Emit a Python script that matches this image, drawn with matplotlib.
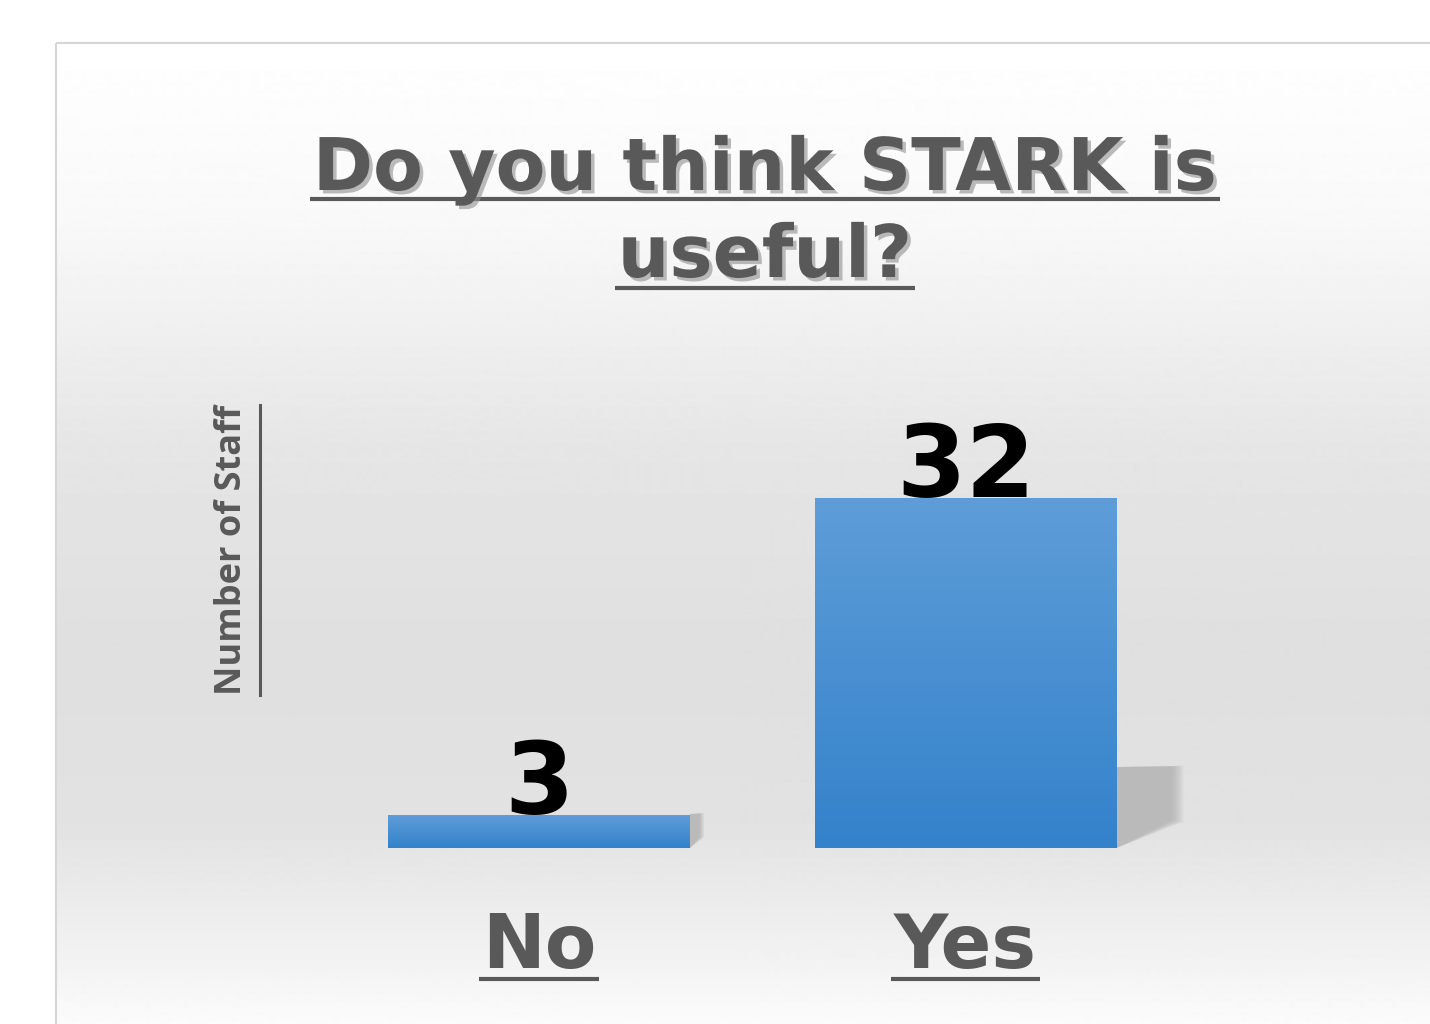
import numpy as np
import matplotlib
matplotlib.use("Agg")
import matplotlib.pyplot as plt
from matplotlib import patheffects as pe
from matplotlib.colors import LinearSegmentedColormap
from matplotlib.patches import Polygon, Rectangle
from matplotlib.lines import Line2D

# data
categories = ['No', 'Yes']
counts = [3, 32]
title_lines = ['Do you think STARK is', 'useful?']
y_label = 'Number of Staff'

W, H = 1430, 1024
fig = plt.figure(figsize=(W / 100, H / 100), dpi=100)

# background: white page with a grey gradient panel
bg = fig.add_axes([0, 0, 1, 1])
bg.set_xlim(0, W)
bg.set_ylim(H, 0)
bg.axis('off')
stops = [42, 220, 450, 650, 820, 960, 1024]
levels = [1.0, 0.975, 0.90, 0.875, 0.885, 0.95, 0.985]
ys = np.arange(42, H + 1)
grad = np.interp(ys, stops, levels)[:, None]
bg.imshow(grad, cmap='gray', vmin=0, vmax=1, extent=[55, W, H, 42], aspect='auto')
bg.add_patch(Rectangle((55.5, 42.5), W, H, fill=False, edgecolor='#d6d6d6', lw=1.5))
bg.set_xlim(0, W)
bg.set_ylim(H, 0)

# main axes, bars sit on pixel row 848
ax = fig.add_axes([300 / W, (H - 848) / H, 900 / W, 448 / H])
ax.axis('off')
x = np.arange(len(categories))
bar_w = 0.708
bars = ax.bar(x, counts, width=bar_w, color='#4a8fd4', zorder=3)

blue = LinearSegmentedColormap.from_list('bar', ['#3482cb', '#5e9dd8'])
for b in bars:
    x0, w, h = b.get_x(), b.get_width(), b.get_height()
    # soft shadow to the right of each bar
    top = min(h, 7.3)
    depth = 0.13 * (top / 7.3) ** 2
    n = 10
    for k in range(n):
        s = (n - 1 - k) * 0.003 * top / 7.3
        shadow = Polygon([(x0 + w, 0), (x0 + w, top + 0.1),
                          (x0 + w + depth + s, top + 0.15 + s * 3),
                          (x0 + w + depth + s, top * 0.35 - s * 6)],
                         closed=True, facecolor='#a6a6a6', edgecolor='none',
                         alpha=0.09, zorder=2)
        ax.add_patch(shadow)
    g = np.linspace(0, 1, 200)[:, None]
    ax.imshow(g, cmap=blue, extent=[x0, x0 + w, 0, h], origin='lower',
              aspect='auto', zorder=3.5)
    ax.text(x0 + w / 2, h + 0.15, str(int(h)), ha='center', va='baseline',
            fontsize=72, fontweight='bold', family='DejaVu Sans', color='black', zorder=5)

ax.set_xlim(-0.5604, 1.5498)
ax.set_ylim(0, 41)

grey = '#595959'
labels = []
for xi, c in zip(x, categories):
    t = ax.text(xi, -11.0, c, ha='center', va='baseline', fontsize=54,
                fontweight='bold', family='DejaVu Sans', color=grey, clip_on=False)
    labels.append(t)

shadow_fx = [pe.withSimplePatchShadow(offset=(2.5, -2.5), shadow_rgbFace='#8f8f8f', alpha=0.6)]
title_font = dict(fontweight='bold', family='DejaVu Sans', color=grey)
t1 = fig.text(765 / W, 1 - 190 / H, title_lines[0], ha='center', va='baseline',
              fontsize=46, path_effects=shadow_fx, **title_font)
t2 = fig.text(765 / W, 1 - 277 / H, title_lines[1], ha='center', va='baseline',
              fontsize=46, path_effects=shadow_fx, **title_font)

yl = fig.text(232 / W, 1 - 550 / H, y_label, rotation=90, ha='center', va='center',
              fontsize=26, fontweight='bold', family='Open Sans', color=grey)

fig.canvas.draw()
r = fig.canvas.get_renderer()
# scale title so the first line spans the same width as in the source
scale = 904 / t1.get_window_extent(r).width
t1.set_fontsize(46 * scale)
t2.set_fontsize(46 * scale)
fig.canvas.draw()


def underline(t, ypix, lw, fx=None):
    bb = t.get_window_extent(r)
    ln = Line2D([(bb.x0 - 3) / W, (bb.x1 + 3) / W], [1 - ypix / H, 1 - ypix / H],
                transform=fig.transFigure, color=grey, lw=lw, solid_capstyle='butt')
    if fx:
        ln.set_path_effects(fx)
    fig.add_artist(ln)


underline(t1, 198.5, 3.0, shadow_fx)
underline(t2, 288, 3.0, shadow_fx)
for t in labels:
    underline(t, 978.5, 3.0)

bb = yl.get_window_extent(r)
fig.add_artist(Line2D([260 / W, 260 / W], [bb.y0 / H, bb.y1 / H], transform=fig.transFigure,
                      color=grey, lw=2.2))

fig.savefig('out.png', dpi=100)
